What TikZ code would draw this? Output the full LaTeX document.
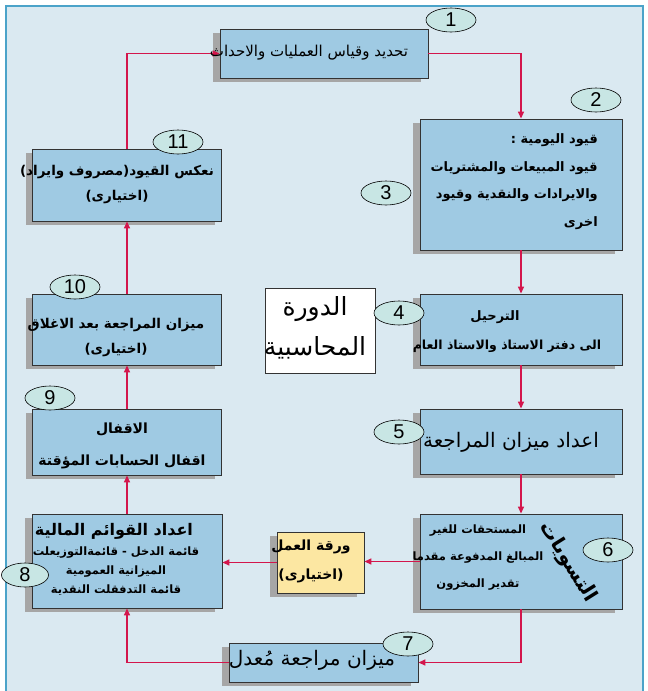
\documentclass[tikz,border=0pt]{standalone}
\usepackage{fontspec}
\setmainfont{Liberation Sans}
\newfontfamily\arabicfont[Script=Arabic]{DejaVu Sans}
\TeXXeTstate=1
\usetikzlibrary{arrows.meta,shapes.geometric,shadows}
\newcommand{\ar}[1]{\beginR #1\endR}
\definecolor{bgfill}{HTML}{DAE9F1}
\definecolor{framecol}{HTML}{4BA3C9}
\definecolor{boxfill}{HTML}{9FCAE3}
\definecolor{boxline}{HTML}{333333}
\definecolor{shadowgray}{HTML}{A6A6A6}
\definecolor{ellfill}{HTML}{C8E6E4}
\definecolor{arrowred}{HTML}{D3164C}
\definecolor{wsfill}{HTML}{FCE7A2}
\tikzset{
  box/.style={draw=boxline, fill=boxfill, line width=0.9pt, inner sep=0pt,
    drop shadow={shadow xshift=-7pt, shadow yshift=-4pt, fill=shadowgray, opacity=1}},
  plainbox/.style={draw=boxline, fill=white, line width=0.9pt, inner sep=0pt},
  numell/.style={ellipse, draw=black, fill=ellfill, line width=0.6pt, minimum width=50pt,
    minimum height=24pt, inner sep=0pt, font=\fontsize{20}{20}\selectfont},
  conn/.style={draw=arrowred, line width=1.5pt, -{Triangle[length=7pt,width=6pt]}},
  atxt/.style={inner sep=0pt, align=center},
}
\begin{document}
\begin{tikzpicture}[x=1pt,y=-1pt]
\useasboundingbox (0,0) rectangle (648,691);
\fill[white] (0,0) rectangle (648,691);
\fill[bgfill] (6,6) rectangle (643,691);
\draw[framecol, line width=2pt] (6,691) -- (6,6) -- (643,6) -- (643,691);

% boxes
\node[box, minimum width=208pt, minimum height=49pt] (b1) at (324,53.5) {};
\node[box, minimum width=202pt, minimum height=131pt] (b2) at (521,184.5) {};
\node[box, minimum width=189pt, minimum height=72pt] (b11) at (127,185) {};
\node[box, minimum width=189pt, minimum height=71pt] (b10) at (127,329.5) {};
\node[box, minimum width=202pt, minimum height=71pt] (b4) at (521,329.5) {};
\node[plainbox, minimum width=110pt, minimum height=85pt] (cyc) at (320,330.5) {};
\node[box, minimum width=189pt, minimum height=66pt] (b9) at (127,442) {};
\node[box, minimum width=202pt, minimum height=65pt] (b5) at (521,441.5) {};
\node[box, minimum width=190pt, minimum height=94pt] (b8) at (127,561) {};
\node[box, minimum width=202pt, minimum height=95pt] (b6) at (521,561.5) {};
\node[box, fill=wsfill, minimum width=87pt, minimum height=61pt] (ws) at (320.5,562.5) {};
\node[box, minimum width=189pt, minimum height=39pt] (b7) at (323.5,662.5) {};

% connectors
\draw[conn] (b1.east) -| (b2.north);
\draw[conn] (b2.south) -- (b4.north);
\draw[conn] (b4.south) -- (b5.north);
\draw[conn] (b5.south) -- (b6.north);
\draw[conn] (b6.south) |- (b7.east);
\draw[conn] (b6.west) -- (b6.west -| ws.east);
\draw[conn] (ws.west) -- (ws.west -| b8.east);
\draw[conn] (b7.west) -| (b8.south);
\draw[conn] (b8.north) -- (b9.south);
\draw[conn] (b9.north) -- (b10.south);
\draw[conn] (b10.north) -- (b11.south);
\draw[conn] (b11.north) |- (b1.west);

% texts
\node[atxt, font=\arabicfont\fontsize{15}{17}\selectfont] (t1) at (309,53) {\ar{تحديد وقياس العمليات والاحداث}};
\node[atxt, align=right, anchor=east, font=\arabicfont\bfseries\fontsize{13}{27.7}\selectfont] (t2) at (598,181.5)
  {\ar{قيود اليومية :}\\\ar{قيود المبيعات والمشتريات}\\\ar{والايرادات والنقدية وقيود}\\\ar{اخرى}};
\node[atxt, font=\arabicfont\bfseries\fontsize{13.5}{25}\selectfont] (t11) at (117,184.5) {\ar{نعكس القيود(مصروف وايراد)}\\\ar{(اختيارى)}};
\node[atxt, font=\arabicfont\bfseries\fontsize{13.5}{25}\selectfont] (t10) at (116,337.5) {\ar{ميزان المراجعة بعد الاغلاق}\\\ar{(اختيارى)}};
\node[atxt, font=\arabicfont\bfseries\fontsize{14}{32}\selectfont] (t9) at (122,446) {\ar{الاقفال}\\\ar{اقفال الحسابات المؤقتة}};
\node[atxt, font=\arabicfont\bfseries\fontsize{13}{15}\selectfont] (t4a) at (495,317) {\ar{الترحيل}};
\node[atxt, font=\arabicfont\bfseries\fontsize{12.5}{15}\selectfont] (t4b) at (507,346) {\ar{الى دفتر الاستاذ والاستاذ العام}};
\node[atxt, font=\arabicfont\fontsize{25}{40}\selectfont] (tc) at (315,328) {\ar{الدورة}\\\ar{المحاسبية}};
\node[atxt, font=\arabicfont\fontsize{20}{22}\selectfont] (t5) at (511,442) {\ar{اعداد ميزان المراجعة}};
\node[atxt, font=\arabicfont\bfseries\fontsize{11.5}{27}\selectfont] (t6) at (478,558) {\ar{المستحقات للغير}\\\ar{المبالغ المدفوعة مقدما}\\\ar{تقدير المخزون}};
\node[atxt, rotate=-58, font=\arabicfont\bfseries\fontsize{20}{22}\selectfont] (t6r) at (568,562) {\ar{التسويات}};
\node[atxt, font=\arabicfont\bfseries\fontsize{16}{18}\selectfont] (t8a) at (114,531) {\ar{اعداد القوائم المالية}};
\node[atxt, font=\arabicfont\bfseries\fontsize{11.5}{19}\selectfont] (t8b) at (116,571) {\ar{قائمة الدخل - قائمةالتوزيعلت}\\\ar{الميزانية العمومية}\\\ar{قائمة التدفقلت النقدية}};
\node[atxt, font=\arabicfont\bfseries\fontsize{14}{29}\selectfont] (tws) at (311,561.5) {\ar{ورقة العمل}\\\ar{(اختيارى)}};
\node[atxt, font=\arabicfont\fontsize{20}{22}\selectfont] (t7) at (312,660) {\ar{ميزان مراجعة مُعدل}};

% number ellipses
\node[numell] (n1) at (451,20) {1};
\node[numell] (n2) at (596,100) {2};
\node[numell] (n3) at (386,193) {3};
\node[numell] (n4) at (399,313) {4};
\node[numell] (n5) at (399,432) {5};
\node[numell] (n6) at (608,550) {6};
\node[numell] (n7) at (408,644) {7};
\node[numell, minimum width=47pt] (n8) at (25,575) {8};
\node[numell] (n9) at (50,398) {9};
\node[numell] (n10) at (75,287) {10};
\node[numell] (n11) at (178,142) {11};
\end{tikzpicture}
\end{document}
